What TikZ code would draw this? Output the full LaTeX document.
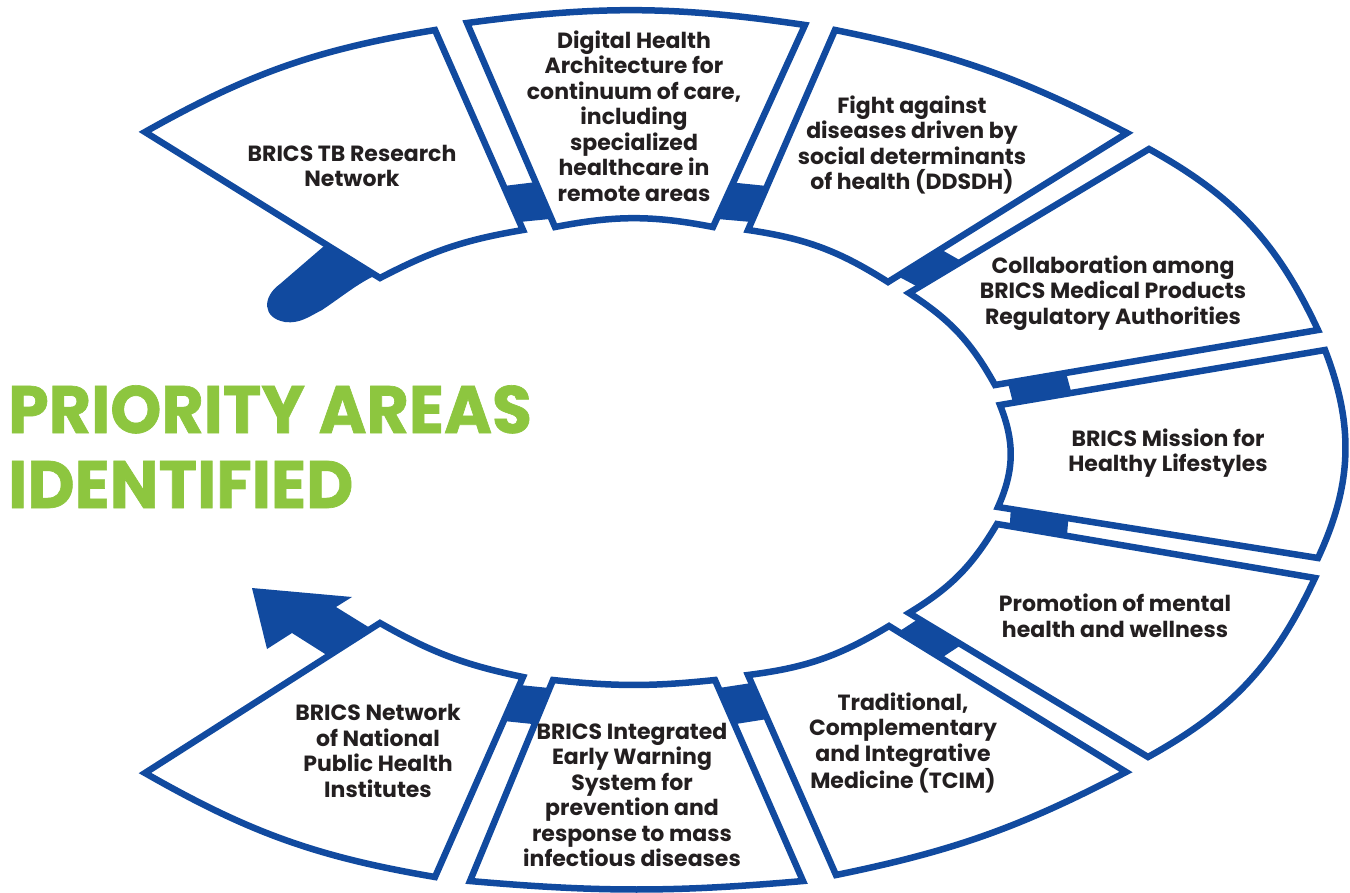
\documentclass[tikz,border=0pt]{standalone}
\usepackage{fontspec}
\setmainfont{Poppins}
\newfontfamily\titlefont{Poppins}[FakeStretch=0.97,BoldFeatures={FakeBold=1}]
\usetikzlibrary{calc}
\definecolor{ringblue}{RGB}{17,74,159}
\definecolor{titlegreen}{RGB}{141,198,63}
\definecolor{inkdark}{RGB}{35,31,32}

\begin{document}
\begin{tikzpicture}[x=1pt,y=1pt,
    seg/.style={draw=ringblue,line width=6.5pt,fill=white},
    plug/.style={fill=ringblue},
    lbl/.style={align=center,text=inkdark,inner sep=0pt,
                font=\bfseries\fontsize{22}{25.5}\selectfont},
    heading/.style={anchor=base west,text=titlegreen,inner sep=0pt,
                font=\titlefont\bfseries\fontsize{67}{75}\selectfont}
  ]
  \useasboundingbox (0,0) rectangle (1350,-892);

  % ring segments: A,D on the inner ellipse, B,C on the outside
  \foreach \s/\ax/\ay/\bx/\by/\cx/\cy/\dx/\dy/\ob/\ib in {
      tb/380/278/145/132/435/30/523/230/10/9,
      dh/555/227/467/23/805/25/713/227/8/11,
      dd/748/230/835/30/1127/133/888/282/8/12,
      co/909/293/1149/149/1318/330/995/385/18/14,
      mi/1000/405/1325/350/1318/558/998/507/23/23,
      pr/997/524/1315/578/1148/757/909/613/18/14,
      tc/889/626/1126/772/836/875/748/675/8/12,
      ie/715/680/803/881/470/881/553/680/5/6,
      nw/523/677/435/877/145/773/380/623/10/9}
  {
    \coordinate (\s-A) at (\ax,-\ay);
    \coordinate (\s-B) at (\bx,-\by);
    \coordinate (\s-C) at (\cx,-\cy);
    \coordinate (\s-D) at (\dx,-\dy);
    \draw[seg] (\s-D) to[bend right=\ib] (\s-A) -- (\s-B)
      to[bend left=\ob] (\s-C) -- cycle;
  }

  % joints between neighbours
  \foreach \p/\q in {tb/dh,dh/dd,dd/co,co/mi,mi/pr,pr/tc,tc/ie,ie/nw}
    \fill[plug] ($(\p-D)!.04!(\p-C)$) -- ($(\p-D)!.22!(\p-C)$)
      -- ($(\q-A)!.22!(\q-B)$) -- ($(\q-A)!.04!(\q-B)$) -- cycle;

  % tail at the start of the ring
  \fill[ringblue] ($(tb-A)!.23!(tb-B)$) -- (280,-284)
    .. controls (262,-297) and (262,-318) .. (285,-322)
    .. controls (300,-324) and (310,-316) .. (322,-310)
    .. controls (340,-298) and (356,-285) .. (372,-277) -- (tb-A) -- cycle;

  % arrow head at the end of the ring
  \fill[ringblue] ($(nw-D)!.22!(nw-C)$) -- (292,-633) -- (267,-649)
    -- (252,-588) -- (352,-597) -- (336,-607) -- (370,-628) -- (nw-D) -- cycle;

  % labels
  \node[lbl] (tbtxt) at (352,-166) {BRICS TB Research\\Network};
  \node[lbl] (dhtxt) at (634,-116) {Digital Health\\Architecture for\\continuum of care,\\including\\specialized\\healthcare in\\remote areas};
  \node[lbl] (ddtxt) at (912,-145) {Fight against\\diseases driven by\\social determinants\\of health (DDSDH)};
  \node[lbl] (cotxt) at (1113,-293) {Collaboration among\\BRICS Medical Products\\Regulatory Authorities};
  \node[lbl] (mitxt) at (1168,-453) {BRICS Mission for\\Healthy Lifestyles};
  \node[lbl] (prtxt) at (1115,-616) {Promotion of mental\\health and wellness};
  \node[lbl] (tctxt) at (903,-743) {Traditional,\\Complementary\\and Integrative\\Medicine (TCIM)};
  \node[lbl] (ietxt) at (632,-795) {BRICS Integrated\\Early Warning\\System for\\prevention and\\response to mass\\infectious diseases};
  \node[lbl] (nwtxt) at (378,-751) {BRICS Network\\of National\\Public Health\\Institutes};

  \node[heading] (title1) at (8,-433) {PRIORITY AREAS};
  \node[heading] (title2) at (8,-508) {IDENTIFIED};
\end{tikzpicture}
\end{document}
